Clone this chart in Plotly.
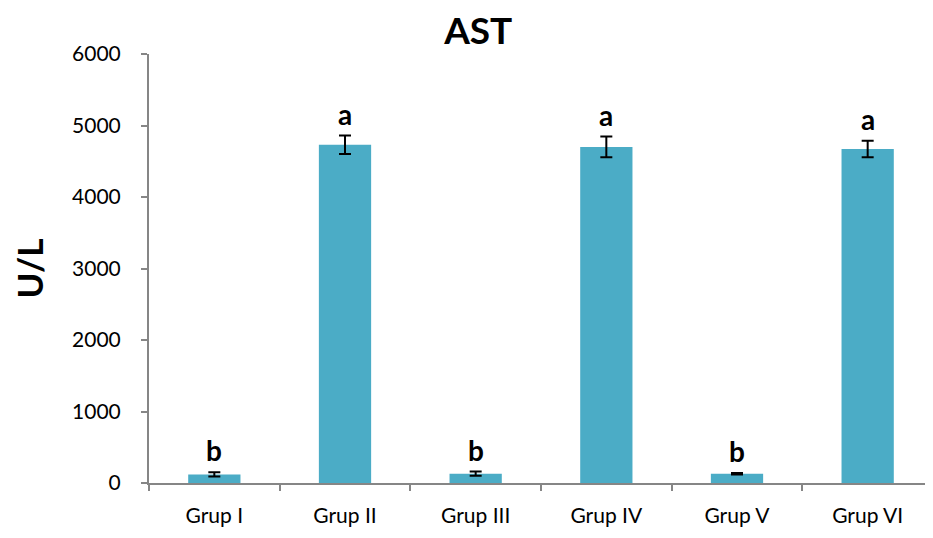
import plotly.graph_objects as go

groups = ["Grup I", "Grup II", "Grup III", "Grup IV", "Grup V", "Grup VI"]
values = [120, 4730, 130, 4700, 130, 4670]
errors = [30, 130, 30, 145, 10, 115]
letters = ["b", "a", "b", "a", "b", "a"]
y_ticks = [0, 1000, 2000, 3000, 4000, 5000, 6000]

FONT = "Lato"

fig = go.Figure()
fig.add_trace(go.Bar(
    x=groups, y=values,
    marker=dict(color="#4BACC6", line=dict(width=0)),
    width=0.4,
    error_y=dict(type="data", array=errors, visible=True,
                 color="black", thickness=2, width=6),
))

for g, v, e, l in zip(groups, values, errors, letters):
    fig.add_annotation(x=g, y=v + e, text="<b>%s</b>" % l, showarrow=False,
                       yanchor="bottom", yshift=3,
                       font=dict(family=FONT, size=28, color="black"))

fig.update_layout(
    width=933, height=538,
    margin=dict(l=141, r=8, t=46, b=63),
    paper_bgcolor="white", plot_bgcolor="white",
    showlegend=False,
    title=dict(text="<b>AST</b>", x=0.504, xanchor="center", y=0.958, yanchor="middle",
               font=dict(family=FONT, size=37, color="black")),
    font=dict(family=FONT, color="black"),
)
fig.update_xaxes(
    showline=True, linecolor="#868686", linewidth=2,
    ticks="outside", tickson="boundaries", ticklen=6, tickcolor="#868686", tickwidth=2,
    tickfont=dict(family=FONT, size=21, color="black"),
    ticklabelstandoff=13,
    showgrid=False,
)
fig.update_yaxes(
    range=[0, 6000], tickvals=y_ticks,
    showline=True, linecolor="#868686", linewidth=2,
    ticks="outside", ticklen=6, tickcolor="#868686", tickwidth=2,
    tickfont=dict(family=FONT, size=21, color="black"),
    ticklabelstandoff=16,
    showgrid=False, zeroline=False,
    title=dict(text="<b>U/L</b>", font=dict(family=FONT, size=35, color="black"), standoff=22),
)

fig.write_html("out.html")
